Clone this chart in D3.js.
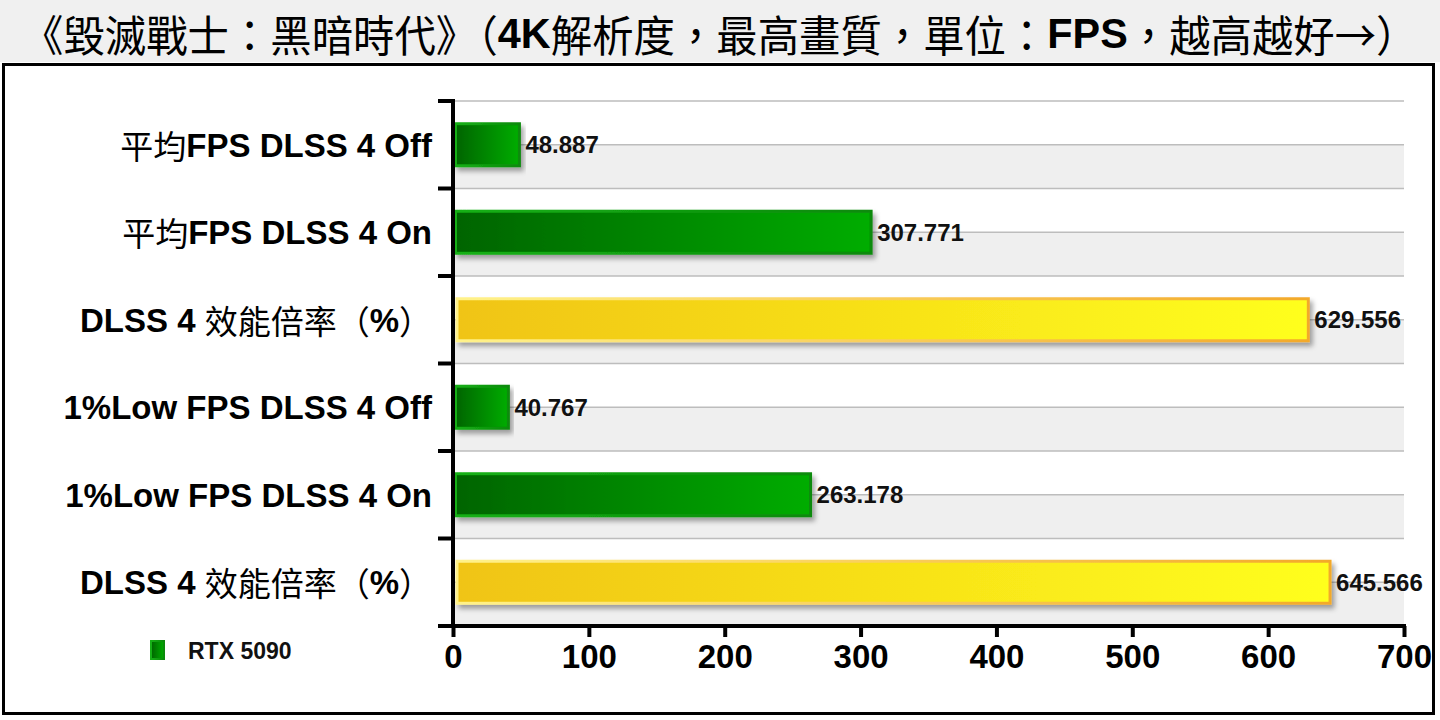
<!DOCTYPE html>
<html>
<head>
<meta charset="utf-8">
<script src="https://cdn.jsdelivr.net/npm/d3@7/dist/d3.min.js"></script>
<style>
  html, body { margin: 0; padding: 0; background: #fff; }
  svg { display: block; }
</style>
</head>
<body>
<div id="chart"></div>
<script>
// chart data
var titleText = "《毀滅戰士：黑暗時代》（4K解析度，最高畫質，單位：FPS，越高越好→）";
var categories = [
    "平均FPS DLSS 4 Off",
    "平均FPS DLSS 4 On",
    "DLSS 4 效能倍率（%）",
    "1%Low FPS DLSS 4 Off",
    "1%Low FPS DLSS 4 On",
    "DLSS 4 效能倍率（%）"
];
var values = [48.887, 307.771, 629.556, 40.767, 263.178, 645.566];
var metric = ["fps", "fps", "pct", "fps", "fps", "pct"];
var xTicks = [0, 100, 200, 300, 400, 500, 600, 700];
var seriesName = "RTX 5090";

var W = 1440, H = 720;
var margin = {left: 453, right: 36, top: 101, bottom: 94};

var svg = d3.select("#chart").append("svg")
    .attr("width", W)
    .attr("height", H);

var defs = svg.append("defs");

function hGrad(id, c0, c1) {
    var g = defs.append("linearGradient").attr("id", id)
        .attr("x1", "0%").attr("x2", "100%").attr("y1", "0%").attr("y2", "0%");
    g.append("stop").attr("offset", "0%").attr("stop-color", c0);
    g.append("stop").attr("offset", "100%").attr("stop-color", c1);
}
hGrad("gGreen", "#006400", "#00ad00");
hGrad("gGreenStroke", "#16b016", "#0b8a0b");
hGrad("gYellow", "#f0c412", "#ffff1e");
hGrad("gYellowStroke", "#fff28a", "#f3a92a");

var shadow = defs.append("filter").attr("id", "shadow")
    .attr("x", "-5%").attr("y", "-30%").attr("width", "115%").attr("height", "170%");
shadow.append("feDropShadow")
    .attr("dx", 3).attr("dy", 4).attr("stdDeviation", 2.5)
    .attr("flood-color", "#000").attr("flood-opacity", 0.35);

// split text into CJK (regular) and latin (bold) runs
var cjkRe = /[\u2190-\u21ff\u3000-\u9fff\uff00-\uffef]/;
function runs(str) {
    var out = [];
    Array.from(str).forEach(function(ch) {
        var cjk = cjkRe.test(ch);
        if (out.length && out[out.length - 1].cjk === cjk) out[out.length - 1].t += ch;
        else out.push({t: ch, cjk: cjk});
    });
    return out;
}
function fillRuns(sel, str) {
    sel.selectAll("tspan").data(runs(str)).enter().append("tspan")
        .style("font-family", function(d) { return d.cjk ? "'Noto Sans CJK TC', sans-serif" : "'Liberation Sans', Arial, sans-serif"; })
        .style("font-weight", function(d) { return d.cjk ? 400 : 700; })
        .text(function(d) { return d.t; });
}

/*** TITLE */
svg.append("rect")
    .attr("x", 0).attr("y", 0).attr("width", W).attr("height", 62)
    .attr("fill", "#f0f0f0");

var title = svg.append("text")
    .attr("x", 0).attr("y", 0)
    .attr("dominant-baseline", "central")
    .style("font-size", "43px")
    .attr("fill", "#000");
fillRuns(title, titleText);
var tb = title.node().getBBox();
var tWidth = 1396;
title.attr("transform", "translate(" + 22 + "," + 33 + ") scale(" + (tWidth / tb.width) + ",1)");

/*** PANEL */
svg.append("rect")
    .attr("x", 3.5).attr("y", 64.5).attr("width", 1430).attr("height", 649)
    .attr("fill", "#fff").attr("stroke", "#000").attr("stroke-width", 3);

/*** SCALES */
var x = d3.scaleLinear()
    .domain([0, 700])
    .range([margin.left, W - margin.right]);

var y = d3.scaleBand()
    .domain(d3.range(categories.length))
    .range([margin.top, H - margin.bottom])
    .paddingInner(0)
    .paddingOuter(0);

var bw = y.bandwidth();
var barH = bw * 0.48;

// stripes (lower half of each band is grey)
svg.append("g").selectAll("rect")
    .data(d3.range(categories.length))
    .enter().append("rect")
    .attr("x", x(0))
    .attr("y", function(i) { return y(i) + bw / 2; })
    .attr("width", x(700) - x(0))
    .attr("height", bw / 2)
    .attr("fill", "#efefef");

// gridlines at every half band
var gridY = [];
d3.range(categories.length).forEach(function(i) { gridY.push(y(i), y(i) + bw / 2); });
gridY.push(y.range()[1]);
svg.append("g").selectAll("line")
    .data(gridY)
    .enter().append("line")
    .attr("x1", x(0)).attr("x2", x(700))
    .attr("y1", function(d) { return d; })
    .attr("y2", function(d) { return d; })
    .attr("stroke", "#bdbdbd")
    .attr("stroke-width", 1.5);

/*** BARS */
svg.append("g").selectAll("rect")
    .data(values)
    .enter().append("rect")
    .attr("x", function(d, i) { return x(0) + (metric[i] === "pct" ? 4 : 2.5); })
    .attr("y", function(d, i) { return y(i) + (bw - barH) / 2; })
    .attr("width", function(d, i) { return x(d) - x(0) - (metric[i] === "pct" ? 4 : 2.5); })
    .attr("height", barH)
    .attr("fill", function(d, i) { return metric[i] === "pct" ? "url(#gYellow)" : "url(#gGreen)"; })
    .attr("stroke", function(d, i) { return metric[i] === "pct" ? "url(#gYellowStroke)" : "url(#gGreenStroke)"; })
    .attr("stroke-width", 3)
    .attr("filter", "url(#shadow)");

// value labels
svg.append("g").selectAll("text")
    .data(values)
    .enter().append("text")
    .attr("x", function(d) { return x(d) + 6; })
    .attr("y", function(d, i) { return y(i) + bw / 2; })
    .attr("dominant-baseline", "central")
    .style("font-family", "'Liberation Sans', Arial, sans-serif")
    .style("font-weight", 700)
    .style("font-size", "24px")
    .attr("fill", "#111")
    .text(function(d) { return d3.format(".3f")(d); });

/*** AXES */
var xAxis = svg.append("g")
    .attr("transform", "translate(0," + y.range()[1] + ")")
    .call(d3.axisBottom(x).tickValues(xTicks).tickSize(11).tickPadding(8).tickFormat(d3.format("d")));
xAxis.select(".domain").attr("d", "M" + (x(0) - 15) + ",0H" + (x(700) + 2))
    .attr("stroke", "#000").attr("stroke-width", 4);
xAxis.selectAll(".tick line").attr("stroke", "#000").attr("stroke-width", 4);
xAxis.selectAll(".tick text")
    .style("font-family", "'Liberation Sans', Arial, sans-serif")
    .style("font-weight", 700)
    .style("font-size", "33px")
    .attr("fill", "#000");

var yAxis = svg.append("g")
    .attr("transform", "translate(" + x(0) + ",0)");
yAxis.append("line")
    .attr("x1", 0).attr("x2", 0)
    .attr("y1", y.range()[0] - 2).attr("y2", y.range()[1] + 2)
    .attr("stroke", "#000").attr("stroke-width", 4);
yAxis.selectAll(".ytick")
    .data(d3.range(categories.length + 1))
    .enter().append("line")
    .attr("class", "ytick")
    .attr("x1", -15).attr("x2", 0)
    .attr("y1", function(i) { return y.range()[0] + i * bw; })
    .attr("y2", function(i) { return y.range()[0] + i * bw; })
    .attr("stroke", "#000").attr("stroke-width", 4);

// category labels
svg.append("g").selectAll("text")
    .data(categories)
    .enter().append("text")
    .attr("x", x(0) - 21)
    .attr("y", function(d, i) { return y(i) + bw / 2; })
    .attr("text-anchor", "end")
    .attr("dominant-baseline", "central")
    .style("font-size", "33px")
    .attr("fill", "#000")
    .each(function(d) { fillRuns(d3.select(this), d); });

/*** LEGEND */
var legend = svg.append("g").attr("transform", "translate(151,641)");
legend.append("rect")
    .attr("x", 0).attr("y", 0).attr("width", 13).attr("height", 18)
    .attr("fill", "url(#gGreen)")
    .attr("stroke", "url(#gGreenStroke)")
    .attr("stroke-width", 2);
legend.append("text")
    .attr("x", 37).attr("y", 10)
    .attr("dominant-baseline", "central")
    .style("font-family", "'Liberation Sans', Arial, sans-serif")
    .style("font-weight", 700)
    .style("font-size", "23px")
    .attr("fill", "#111")
    .text(seriesName);
</script>
</body>
</html>
